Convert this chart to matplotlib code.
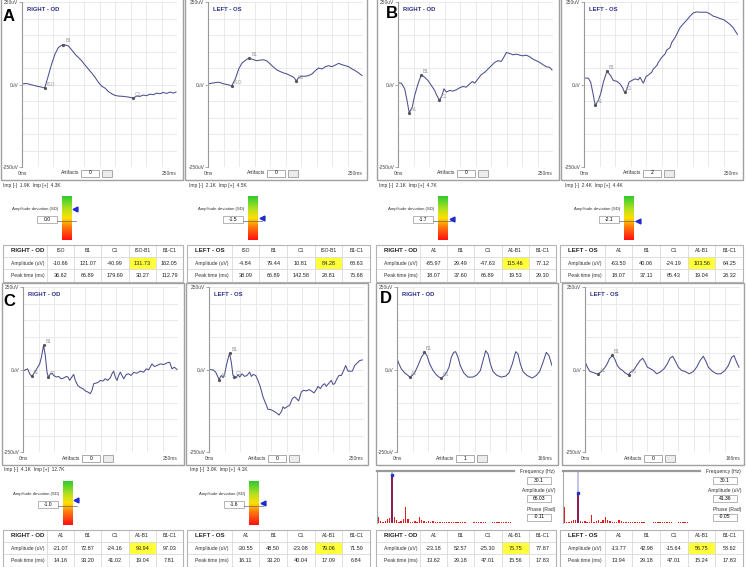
import matplotlib.pyplot as plt
import numpy as np
from matplotlib.patches import Rectangle
from matplotlib.colors import LinearSegmentedColormap

plt.rcParams['font.family'] = ['Liberation Sans', 'DejaVu Sans']

# ---- traces (time ms, amplitude uV) ----
A_OD_T = [0, 7.5, 15.6, 23.7, 31.7, 36.6, 42.5, 47.8, 53.2, 58.6, 64.0, 66.9, 74.7, 80.1, 85.5,
          90.9, 96.2, 101.6, 107.0, 112.4, 117.7, 123.1, 128.5, 133.9, 139.2, 144.6, 150.0, 155.4,
          163.4, 171.5, 179.7, 184.9, 190.3, 195.7, 201.1, 206.5, 211.8, 217.2, 222.6, 227.9,
          233.3, 238.7, 244.1, 248.4]
A_OD_V = [2, 3, -1, -5, -8, -10.7, 27, 62, 92, 112, 119, 121.1, 117, 105, 92, 82, 72, 59, 47, 35,
          22, 7, -5, -11, -21, -28, -33, -35, -36, -38, -41, -35, -36, -32, -34, -29, -31, -26,
          -28, -24, -27, -23, -26, -23]
A_OS_T = [0, 9.1, 17.2, 25.3, 33.3, 38.1, 44.1, 49.5, 54.8, 62.9, 66.9, 73.7, 79.0, 84.4, 89.8,
          95.2, 100.5, 105.9, 111.3, 116.7, 122.0, 127.4, 132.8, 138.2, 142.6, 146.2, 151.6,
          157.0, 162.4, 167.7, 173.1, 178.5, 183.9, 189.2, 194.6, 200.0, 205.4, 210.8, 216.1,
          221.5, 226.9, 232.3, 237.6, 243.0, 248.4]
A_OS_V = [2, 5, 7, 2, -1, -4.8, 17, 47, 65, 77, 79.4, 75, 72, 74, 75, 71, 62, 52, 44, 39, 35, 32,
          27, 22, 10.8, 21, 25, 25, 27, 32, 42, 50, 47, 54, 57, 54, 59, 64, 60, 57, 54, 47, 42,
          35, 27]
B_OD_T = [0, 5.4, 10.8, 14.5, 18.1, 23.1, 26.9, 32.3, 37.6, 43.0, 48.4, 53.8, 59.1, 63.4, 66.9,
          71.0, 74.2, 78.0, 83.3, 88.7, 94.1, 99.5, 104.8, 110.2, 115.6, 119.9, 123.7, 129.0,
          134.4, 139.8, 145.2, 150.5, 155.9, 161.3, 166.7, 172.0, 174.7, 180.1, 185.5, 190.8,
          196.2, 201.6, 207.0, 212.4, 217.7, 223.1, 228.5, 233.9, 239.2, 244.6, 248.4]
B_OD_V = [5, 4, -13, -48, -86, -68, -33, 2, 29.5, 22, 12, -3, -18, -36, -47.6, -33, -13, -23, -18,
          -20, -16, -10, -6, -8, 2, 9, 4, 17, 30, 37, 47, 57, 67, 72, 70, 87, 97, 94, 90, 92, 89,
          87, 89, 84, 77, 72, 67, 60, 54, 52, 44]
B_OS_T = [0, 7.0, 10.8, 15.1, 18.1, 23.1, 26.9, 31.2, 35.5, 37.1, 43.0, 47.3, 52.7, 58.1, 62.4,
          65.4, 68.8, 72.6, 76.9, 82.3, 87.6, 90.3, 95.7, 100.0, 104.8, 109.1, 111.8, 117.2,
          119.9, 125.3, 130.6, 133.3, 138.7, 141.4, 146.8, 149.5, 154.8, 160.2, 165.6, 171.0,
          176.3, 181.7, 187.1, 192.5, 197.8, 203.2, 208.6, 214.0, 219.3, 224.7, 230.1, 235.5,
          240.8, 247.3]
B_OS_V = [20, 19, 7, -33, -63.5, -48, -28, 7, 32, 40, 27, 12, 10, 2, -10, -24, -16, 7, 12, 17, 14,
          22, 4, 24, 30, 37, 47, 57, 67, 82, 92, 104, 112, 127, 142, 152, 172, 184, 195, 207, 217,
          220, 219, 219, 219, 214, 207, 204, 200, 197, 190, 182, 172, 152]
C_OD_T = [0, 3.8, 7.5, 10.8, 14.2, 17.2, 19.9, 23.7, 26.9, 29.6, 33.2, 36.0, 38.7, 41.0, 44.1,
          46.8, 49.5, 53.8, 57.5, 61.3, 65.6, 69.9, 72.6, 75.3, 78.0, 81.7, 84.4, 88.2, 92.5,
          96.8, 100.5, 104.3, 108.6, 111.3, 114.0, 118.3, 122.0, 124.7, 129.0, 132.8, 136.5,
          140.9, 143.5, 146.2, 148.9, 151.6, 154.3, 157.0, 159.7, 162.4, 166.7, 170.4, 174.2,
          178.5, 183.9, 189.2, 194.6, 198.9, 202.7, 208.1, 211.8, 216.1, 221.5, 226.9, 232.3,
          236.6, 240.3, 244.1, 248.4]
C_OD_V = [-5, -1, 2, -13, -21, -13, -5, 7, 17, 37, 73, 42, -8, -24, -13, -11, -18, -23, -21, -28,
          -26, -21, -23, -33, -25, -15, -33, -48, -55, -58, -65, -68, -73, -63, -43, -41, -38, -33,
          -35, -28, -33, -25, -13, -5, -23, -33, -18, -8, -18, -28, -15, -13, -18, -9, -11, -5,
          -8, 2, -1, 17, 9, 12, 17, 15, 20, 22, 2, 7, 0]
C_OS_T = [0, 6.5, 10.8, 14.5, 16.1, 19.9, 22.6, 25.3, 28.0, 30.6, 33.2, 36.0, 38.7, 41.4, 44.1,
          46.8, 49.5, 53.2, 57.5, 61.3, 65.6, 68.3, 71.0, 75.3, 79.0, 82.8, 87.1, 92.5, 95.2,
          98.9, 103.2, 108.6, 112.9, 116.7, 119.4, 122.0, 125.8, 130.1, 134.4, 138.2, 140.9,
          144.6, 148.9, 152.7, 157.0, 161.3, 165.0, 169.3, 173.1, 175.8, 179.6, 182.8, 186.5,
          189.2, 193.5, 197.3, 200.0, 202.7, 206.4, 209.7, 213.4, 217.2, 220.4, 224.2, 227.9,
          231.2, 234.9, 238.7, 243.0, 247.3]
C_OS_V = [0, -1, -8, -23, -30, -18, -25, -13, 12, 32, 49, 22, -18, -21, -25, -15, -23, -13, -21,
          -18, -8, -21, -15, -18, -33, -53, -83, -108, -121, -121, -125, -131, -138, -128, -113,
          -118, -113, -108, -88, -83, -88, -95, -68, -63, -65, -61, -65, -71, -61, -51, -58, -48,
          -43, -51, -41, -33, -45, -43, -28, -18, -18, -3, 12, -5, -5, -5, 12, 19, 27, 29]
D_OD_T = [0, 2.1, 4.6, 8.2, 11.8, 13.6, 16.4, 18.9, 22.5, 26.1, 29.6, 32.1, 35.0, 38.6, 42.1,
          45.0, 47.5, 50.0, 52.8, 55.7, 58.2, 60.7, 62.8, 65.3, 67.8, 71.4, 76.0, 81.4, 85.7,
          89.3, 92.1, 95.0, 97.5, 100.0, 102.8, 107.1, 111.7, 116.4, 120.0, 123.5, 127.1, 129.6,
          132.1, 134.9, 139.2, 144.9, 149.2, 152.8, 156.4, 159.9, 162.8, 166.0]
D_OD_V = [34, 17, 2, -10, -18, -23, -18, -10, 12, 37, 52, 42, 17, -3, -16, -23, -26, -20, -10, 7,
          37, 52, 54, 37, 12, -10, -23, -23, -16, -3, 27, 57, 47, 17, -6, -18, -23, -20, -10, 17,
          54, 47, 17, -6, -18, -26, -18, -6, 22, 52, 42, 12]
D_OS_T = [0, 2.5, 5.4, 9.6, 13.2, 16.8, 20.3, 23.2, 26.1, 29.6, 32.1, 34.6, 37.5, 40.3, 42.8,
          46.4, 48.9, 51.8, 55.3, 58.9, 61.8, 64.3, 66.8, 70.3, 73.2, 76.8, 80.3, 84.6, 88.2,
          91.0, 93.9, 96.4, 100.0, 103.5, 107.1, 111.7, 116.0, 119.6, 123.2, 126.7, 129.6, 132.1,
          136.7, 141.0, 145.3, 149.9, 153.5, 157.1, 159.6, 162.4, 164.9]
D_OS_V = [24, 7, -6, -10, -14, -8, 2, 14, 32, 43, 30, 12, 2, -3, -10, -16, -8, -3, 12, 27, 34, 22,
          7, 2, -3, -13, -8, 2, 17, 34, 40, 27, 7, -3, -6, -13, -6, 7, 27, 40, 24, 7, -6, -13,
          -13, -3, 12, 37, 42, 22, 7]

# ---- result tables ----
COLS_ISO = ["ISO", "B1", "C1", "ISO-B1", "B1-C1"]
COLS_A1 = ["A1", "B1", "C1", "A1-B1", "B1-C1"]
A_OD_AMP = [-10.66, 121.07, -40.99, 131.73, 162.05]
A_OD_PT = [36.62, 66.89, 179.69, 30.27, 112.79]
A_OS_AMP = [-4.84, 79.44, 10.81, 84.28, 68.63]
A_OS_PT = [38.09, 66.89, 142.58, 28.81, 75.68]
B_OD_AMP = [-85.97, 29.49, -47.63, 115.46, 77.12]
B_OD_PT = [18.07, 37.60, 66.89, 19.53, 29.30]
B_OS_AMP = [-63.50, 40.06, -24.19, 103.56, 64.25]
B_OS_PT = [18.07, 37.11, 65.43, 19.04, 28.32]
C_OD_AMP = [-21.07, 72.87, -24.16, 93.94, 97.03]
C_OD_PT = [14.16, 33.20, 41.02, 19.04, 7.81]
C_OS_AMP = [-30.55, 48.50, -23.08, 79.06, 71.59]
C_OS_PT = [16.11, 33.20, 40.04, 17.09, 6.84]
D_OD_AMP = [-23.18, 52.57, -25.30, 75.75, 77.87]
D_OD_PT = [13.62, 29.18, 47.01, 15.56, 17.83]
D_OS_AMP = [-13.77, 42.98, -15.64, 56.75, 58.62]
D_OS_PT = [13.94, 29.18, 47.01, 15.24, 17.83]

# ---- misc readouts ----
IMP = {"A": [("1.9K", "4.3K"), ("2.1K", "4.5K")], "B": [("2.1K", "4.7K"), ("2.4K", "4.4K")],
       "C": [("4.1K", "12.7K"), ("3.0K", "4.1K")]}
ARTIFACTS = {"A": [0, 0], "B": [0, 2], "C": [0, 0], "D": [1, 0]}
SD = {"A": [0.0, -1.5], "B": [-1.7, -2.1], "C": [-1.0, -1.6]}
SWEEP = {"A": 250, "B": 250, "C": 250, "D": 166}

# flicker spectra (bin amplitudes, uV)
D_OD_SPEC = [8, 3, 2, 3, 5, 7, 66.03, 8, 4, 2, 3, 5, 22, 5, 2, 1, 3, 1, 9, 4,
             3, 2, 2.5, 2, 3, 1.5, 1, 1, 1, 1, 2, 0.8, 0.8, 0.8, 0.8, 0.8, 0.8, 0.8, 0.8, 0,
             0, 0, 0.8, 0.8, 0.8, 0.8, 0.8, 0.8, 0, 0, 0.8, 0.8, 0.8, 0.8, 0.8, 0.8, 0.8, 0.8, 0.8, 0]
D_OS_SPEC = [22, 2, 1.5, 3, 4, 4.5, 41.36, 2.3, 2, 3, 1.5, 1, 11.5, 1.5, 2.5, 3.5, 2, 4, 8, 4,
             3, 2, 2, 1.5, 4.5, 2.5, 1, 1.5, 1.5, 0.8, 0.8, 0.8, 0.8, 0.8, 0.8, 0.8, 0, 0, 0, 0.8,
             0.8, 0.8, 0.8, 0.8, 0.8, 0.8, 0.8, 0.8, 0, 0, 0.8, 0.8, 0.8, 0.8, 0.8, 0, 0, 0, 0, 0]
D_FREQ = [30.1, 30.1]
D_AMP = [66.03, 41.36]
D_PHASE = [-0.11, -0.05]

W, H = 746, 567
TRACE_C = "#4b4f8e"
TITLE_C = "#2b2f87"
GRID_C = "#e6e6e6"

fig = plt.figure(figsize=(W / 100, H / 100), dpi=100)
fig.patch.set_facecolor("white")


def box(x, y, w, h):
    return [x / W, 1 - (y + h) / H, w / W, h / H]


ov = fig.add_axes([0, 0, 1, 1])
ov.set_xlim(0, W)
ov.set_ylim(H, 0)
ov.axis("off")


def draw_trace(left, top, t, v, sweep, title, names, amps, pts):
    ax = fig.add_axes(box(left, top, 155, 165))
    ax.set_facecolor("none")
    ax.set_xlim(0, sweep)
    ax.set_ylim(-250, 250)
    for gx in np.linspace(0, sweep, 11)[1:]:
        ax.axvline(gx, color=GRID_C, lw=0.6, zorder=0)
    for gy in np.arange(-200, 251, 50):
        ax.axhline(gy, color=GRID_C, lw=0.6, zorder=0)
    ax.plot(t, v, color=TRACE_C, lw=0.75)
    ax.plot(pts[:3], amps[:3], "o", ms=1.3, color="#555555")
    for nm, a, p in zip(names[:3], amps[:3], pts[:3]):
        ax.annotate(nm, (p, a), xytext=(1.2, 1.5), textcoords="offset points",
                    fontsize=3.6, color="#999999")
    for s in ["top", "right", "bottom"]:
        ax.spines[s].set_visible(False)
    ax.spines["left"].set_color("#999999")
    ax.spines["left"].set_linewidth(0.8)
    ax.set_xticks([])
    ax.set_yticks([-250, 0, 250])
    ax.set_yticklabels(["-250uV", "0uV", "250uV"], fontsize=3.5, color="#444444")
    ax.tick_params(axis="y", length=2, width=0.5, color="#888888", pad=0.5)
    ax.text(0.035, 0.952, title, transform=ax.transAxes, fontsize=4.2, color=TITLE_C,
            fontweight="bold", va="center")
    ax.text(0, -0.022, "0ms", transform=ax.transAxes, fontsize=3.5, ha="center", va="top",
            color="#444444")
    ax.text(1.0, -0.022, f"{sweep}ms", transform=ax.transAxes, fontsize=3.5, ha="right",
            va="top", color="#444444")
    return ax


def draw_artifacts(left, top, n):
    ov.text(left + 57, top + 171, "Artifacts", ha="right", va="center", fontsize=3.6,
            color="#333333")
    ov.add_patch(Rectangle((left + 59, top + 167.5), 18, 7, fc="white", ec="#888888", lw=0.5))
    ov.text(left + 68, top + 171, str(n), ha="center", va="center", fontsize=3.6)
    ov.add_patch(Rectangle((left + 80, top + 167.5), 10, 7, fc="#ececec", ec="#888888", lw=0.5))


cmap = LinearSegmentedColormap.from_list(
    "dev", [(0, "#ff1010"), (0.3, "#ff7a10"), (0.5, "#ffe000"), (0.7, "#b8e020"), (1, "#2ecc2e")])


def draw_gauge(left, py, sd):
    ov.text(left + 36, py + 209, "Amplitude deviation (SD)", ha="right", va="center",
            fontsize=3.1, color="#333333")
    ov.add_patch(Rectangle((left + 15, py + 215.5), 20, 7.5, fc="white", ec="#999999", lw=0.5))
    ov.text(left + 25, py + 219.3, f"{sd:.1f}", ha="center", va="center", fontsize=3.6)
    gax = fig.add_axes(box(left + 35, py + 196, 22, 44))
    gax.set_facecolor("none")
    gax.set_xlim(0, 22)
    gax.set_ylim(-5.4, 2.3)
    gax.axis("off")
    gax.imshow(np.linspace(0, 1, 100).reshape(-1, 1), extent=(5, 15, -5.4, 2.3), aspect="auto",
               cmap=cmap, origin="lower")
    gax.plot([0, 19], [-2, -2], color="#666666", lw=0.5)
    gax.plot([18.5], [sd], marker="<", ms=3.5, color="#1f2bd0", clip_on=False)


def draw_table(x0, x1, y0, title, cols, amps, pts):
    w = x1 - x0
    rh = 12.4
    widths = [0.245] + [0.151] * 5
    xs = x0 + w * np.cumsum([0] + widths)
    rows = [[title] + cols,
            ["Amplitude (uV)"] + [f"{a:.2f}" for a in amps],
            ["Peak time (ms)"] + [f"{p:.2f}" for p in pts]]
    for r in range(3):
        for c in range(6):
            fc = "#ffff3a" if (r == 1 and c == 4) else "white"
            ov.add_patch(Rectangle((xs[c], y0 + r * rh), xs[c + 1] - xs[c], rh, fc=fc,
                                   ec="#d8d8d8", lw=0.5))
            yc = y0 + r * rh + rh / 2
            if c == 0:
                if r == 0:
                    ov.text(xs[0] + 8, yc, rows[r][c], ha="left", va="center", fontsize=4.4,
                            fontweight="bold", color="#222222")
                else:
                    ov.text(xs[0] + 8, yc, rows[r][c], ha="left", va="center", fontsize=3.6,
                            color="#333333")
            else:
                ov.text((xs[c] + xs[c + 1]) / 2, yc, rows[r][c], ha="center", va="center",
                        fontsize=4.0 if r else 3.6, color="#222222")
    ov.add_patch(Rectangle((x0, y0), w, 3 * rh, fill=False, ec="#b5b5b5", lw=0.8))


def draw_spectrum(left, py, spec, freq, amp, phase):
    sax = fig.add_axes(box(left, py + 186, 137, 52))
    sax.set_facecolor("none")
    idx = np.arange(len(spec))
    sel = int(np.argmax(spec[1:])) + 1
    colors = ["#e31a1c"] * len(spec)
    colors[sel] = "#8c1d55"
    sax.bar([sel], [72 - spec[sel]], bottom=[spec[sel]], width=1.0, color="#c4c4e4", zorder=0)
    sax.bar(idx, spec, width=0.6, color=colors)
    sax.plot([sel], [spec[sel]], "s", ms=1.6, color="#2233cc")
    sax.set_xlim(-0.6, 59.5)
    sax.set_ylim(0, 72)
    sax.set_xticks([])
    sax.set_yticks([])
    sax.spines["top"].set_color("#999999")
    sax.spines["top"].set_linewidth(1.6)
    sax.spines["left"].set_color("#aaaaaa")
    sax.spines["left"].set_linewidth(0.8)
    sax.spines["right"].set_visible(False)
    sax.spines["bottom"].set_visible(False)
    labels = ["Frequency (Hz)", "Amplitude (uV)", "Phase (Rad)"]
    vals = [f"{freq:.1f}", f"{amp:.2f}", f"{phase:.2f}"]
    for i, (lb, vl) in enumerate(zip(labels, vals)):
        yy = py + 187 + i * 18.5
        ov.text(left + 178, yy, lb, ha="right", va="center", fontsize=3.6, color="#333333")
        ov.add_patch(Rectangle((left + 150, yy + 4.5), 24, 7, fc="white", ec="#999999", lw=0.5))
        ov.text(left + 162, yy + 8, vl, ha="center", va="center", fontsize=3.6)


panels = [
    ("A", 0, 0, 22, 208, (A_OD_T, A_OD_V, A_OD_AMP, A_OD_PT), (A_OS_T, A_OS_V, A_OS_AMP, A_OS_PT), COLS_ISO, (3, 9)),
    ("B", 373, 0, 398, 584, (B_OD_T, B_OD_V, B_OD_AMP, B_OD_PT), (B_OS_T, B_OS_V, B_OS_AMP, B_OS_PT), COLS_A1, (386, 6)),
    ("C", 0, 285, 23, 209, (C_OD_T, C_OD_V, C_OD_AMP, C_OD_PT), (C_OS_T, C_OS_V, C_OS_AMP, C_OS_PT), COLS_A1, (3, 294)),
    ("D", 373, 285, 397, 585, (D_OD_T, D_OD_V, D_OD_AMP, D_OD_PT), (D_OS_T, D_OS_V, D_OS_AMP, D_OS_PT), COLS_A1, (380, 291)),
]

for key, px, py, odl, osl, od, os_, cols, lpos in panels:
    top = py + 2
    sweep = SWEEP[key]
    # window frames
    ov.add_patch(Rectangle((odl - 21, py - 2), 182, 182, fill=False, ec="#a0a0a0", lw=1.0))
    ov.add_patch(Rectangle((osl - 23, py - 2), 182, 182, fill=False, ec="#a0a0a0", lw=1.0))
    for i, (left, data, title) in enumerate([(odl, od, "RIGHT - OD"), (osl, os_, "LEFT - OS")]):
        t, v, amps, pts = data
        draw_trace(left, top, t, v, sweep, title, cols, amps, pts)
        draw_artifacts(left, top, ARTIFACTS[key][i])
        if key in IMP:
            im1, im2 = IMP[key][i]
            ov.text(left - 19, py + 185, f"Imp [-]  {im1}  Imp [+]  {im2}", ha="left",
                    va="center", fontsize=3.5, color="#333333")
            draw_gauge(left, py, SD[key][i])
        else:
            spec = D_OD_SPEC if i == 0 else D_OS_SPEC
            draw_spectrum(left - 20 if i == 0 else left - 22, py, spec, D_FREQ[i], D_AMP[i],
                          D_PHASE[i])
        tx0 = px + 3 if i == 0 else px + 187
        tx1 = px + 183 if i == 0 else px + 370
        draw_table(tx0, tx1, py + 244.5, title, cols, amps, pts)
    ov.text(lpos[0], lpos[1], key, fontsize=12, fontweight="bold", ha="left", va="top")

fig.savefig("out.png", dpi=100, facecolor="white")
